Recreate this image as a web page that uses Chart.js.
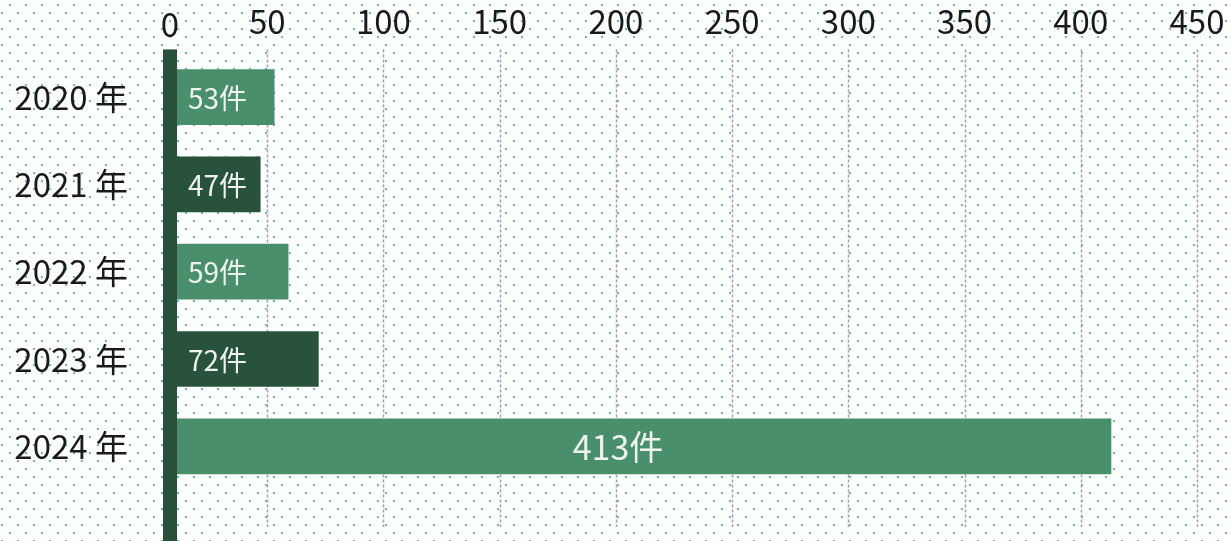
<!DOCTYPE html>
<html><head><meta charset="utf-8">
<script src="https://cdn.jsdelivr.net/npm/chart.js@4"></script>
<style>
html,body{margin:0;padding:0;}
body{width:1230px;height:541px;overflow:hidden;background-color:#fff;
background-image:url("data:image/svg+xml,%3Csvg xmlns='http://www.w3.org/2000/svg' width='16' height='16'%3E%3Crect x='9' y='4' width='2' height='2' fill='%2368b3ea'/%3E%3Crect x='1' y='12' width='2' height='2' fill='%2368b3ea'/%3E%3C/svg%3E");background-repeat:repeat;}
#wrap{position:relative;width:1230px;height:541px;}
</style></head>
<body><div id="wrap"><canvas id="c" width="1230" height="541"></canvas></div>
<script>
const categories = ['2020 年', '2021 年', '2022 年', '2023 年', '2024 年'];
const counts = [53, 47, 59, 72, 413];
const barColors = ['#4a8f6b', '#28523b', '#4a8f6b', '#28523b', '#4a8f6b'];
const xTickValues = [0, 50, 100, 150, 200, 250, 300, 350, 400, 450];
const unitLabel = '件';

const FONT = '"Noto Sans CJK JP", "Noto Sans", sans-serif';
const DARK = '#28503a';

const decor = {
  id: 'decor',
  beforeDatasetsDraw(chart) {
    const ctx = chart.ctx, x = chart.scales.x, a = chart.chartArea;
    ctx.save();
    ctx.strokeStyle = '#a0a0a0';
    ctx.lineWidth = 1.5;
    ctx.setLineDash([3, 2]);
    xTickValues.forEach(v => {
      if (v === 0) return;
      const px = Math.round(x.getPixelForValue(v)) + 0.5;
      ctx.beginPath();
      ctx.moveTo(px, a.top - 4);
      ctx.lineTo(px, a.bottom + 37);
      ctx.stroke();
    });
    ctx.restore();
    const x0 = x.getPixelForValue(0);
    ctx.save();
    ctx.beginPath();
    ctx.rect(x0 + 12, 0, chart.width, chart.height);
    ctx.clip();
  },
  afterDatasetsDraw(chart) {
    const ctx = chart.ctx, x = chart.scales.x, a = chart.chartArea;
    ctx.restore();
    const x0 = x.getPixelForValue(0);
    ctx.save();
    ctx.fillStyle = DARK;
    ctx.fillRect(x0 + 12, a.top - 4, 14, chart.height - (a.top - 4));
    ctx.fillStyle = '#1a1a1a';
    ctx.font = '33px ' + FONT;
    ctx.textAlign = 'center';
    ctx.textBaseline = 'middle';
    ctx.fillText(String(xTickValues[0]), x0 + 19, x.bottom - 29);
    const meta = chart.getDatasetMeta(0);
    meta.data.forEach((bar, i) => {
      const txt = counts[i] + unitLabel;
      ctx.fillStyle = '#eef3ef';
      ctx.textBaseline = 'middle';
      const w = bar.x - x0;
      if (w > 400) {
        ctx.font = '34px ' + FONT;
        ctx.textAlign = 'center';
        ctx.fillText(txt, (x0 + bar.x) / 2 - 13, bar.y + 1);
      } else {
        ctx.font = '28px ' + FONT;
        ctx.textAlign = 'left';
        ctx.fillText(txt, x0 + 37, bar.y + 1);
      }
    });
    ctx.restore();
  }
};

new Chart(document.getElementById('c'), {
  type: 'bar',
  data: {
    labels: categories,
    datasets: [{
      data: counts,
      backgroundColor: barColors,
      borderWidth: 0,
      barThickness: 55
    }]
  },
  options: {
    indexAxis: 'y',
    responsive: false,
    animation: false,
    devicePixelRatio: 1,
    layout: { padding: { top: 0, right: 33, bottom: 51, left: 0 } },
    plugins: { legend: { display: false }, tooltip: { enabled: false } },
    scales: {
      x: {
        position: 'top',
        min: 0, max: 450,
        afterBuildTicks(s) { s.ticks = xTickValues.map(v => ({ value: v })); },
        ticks: {
          color: '#1a1a1a',
          font: { family: FONT, size: 33, lineHeight: 1.2 },
          padding: 4,
          maxRotation: 0,
          autoSkip: false,
          callback: v => (v === 0 ? '' : String(v))
        },
        grid: { display: false },
        border: { display: false },
        afterFit(s) { s.height = 53.4; }
      },
      y: {
        ticks: {
          color: '#1a1a1a',
          font: { family: FONT, size: 33 },
          padding: 15
        },
        grid: { display: false },
        border: { display: false },
        afterFit(s) { s.width = 151; }
      }
    }
  },
  plugins: [decor]
});
</script>
</body></html>
